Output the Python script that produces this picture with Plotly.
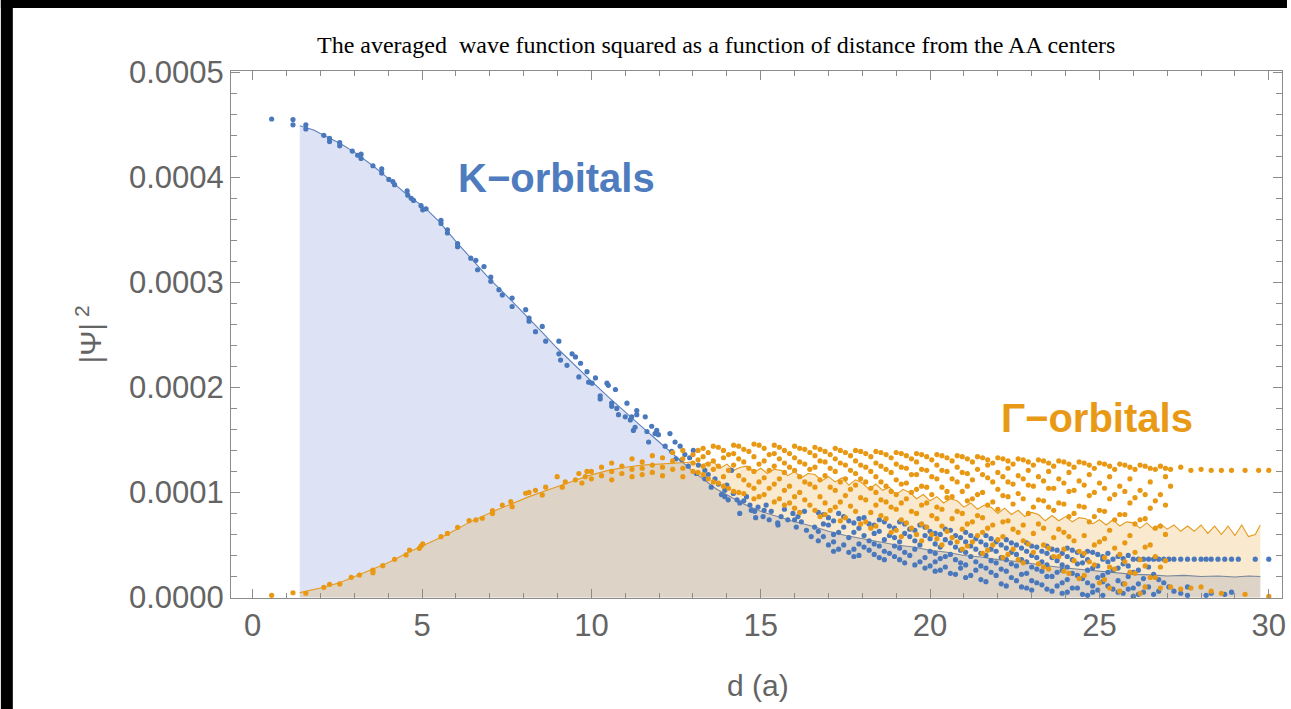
import plotly.graph_objects as go

# ---------------- data (|psi|^2 values in units of 1e-5) ----------------
Y_UNIT = 1e-5

# averaged K-orbital curve
k_curve_x = [1.39, 1.8, 2.1, 2.6, 3.0, 3.55, 4.0, 4.5, 5.12, 5.5, 6.0, 6.5, 7.0, 7.57, 8.0,
             8.5, 9.0, 9.5, 10.0, 10.5, 11.0, 11.4, 12.0, 12.5, 13.0, 13.7, 14.5, 15.0, 15.9,
             16.5, 17.0, 17.5, 18.0, 18.5, 19.0, 19.5, 20.0, 20.5, 21.0, 21.5, 22.0, 22.5,
             23.0, 23.5, 24.0, 24.5, 25.0, 25.5, 26.0, 26.5, 27.0, 27.5, 28.0, 28.5, 29.0,
             29.4, 29.75]
k_curve_y = [44.9, 44.5, 44.0, 43.2, 42.4, 41.1, 39.9, 38.5, 37.0, 35.8, 33.9, 32.1, 30.3,
             28.5, 27.1, 25.4, 23.7, 22.1, 20.6, 19.1, 17.7, 16.5, 14.8, 13.4, 12.0, 10.3,
             8.9, 8.2, 7.3, 6.8, 6.3, 5.9, 5.6, 5.3, 5.0, 4.8, 4.5, 4.3, 4.0, 3.85, 3.6,
             3.45, 3.2, 3.0, 2.8, 2.65, 2.45, 2.35, 2.2, 2.15, 2.05, 2.1, 2.0, 2.05, 1.95,
             2.05, 2.0]

# averaged Gamma-orbital curve
g_curve_x = [1.39, 2.0, 2.57, 3.0, 3.55, 4.0, 4.63, 5.0, 5.6, 6.0, 6.39, 7.18, 8.16, 9.13,
             9.92, 10.5, 11.0, 11.5, 12.0, 12.5,
             13.0, 13.2, 13.4, 13.6, 13.8, 14.0, 14.2, 14.4, 14.6, 14.8, 15.0, 15.2, 15.4,
             15.6, 15.8, 16.0, 16.2, 16.4, 16.6, 16.8, 17.0, 17.2, 17.4, 17.6, 17.8, 18.0,
             18.2, 18.4, 18.6, 18.8, 19.0, 19.2, 19.4, 19.6, 19.8, 20.0, 20.2, 20.4, 20.6,
             20.8, 21.0, 21.2, 21.4, 21.6, 21.8, 22.0, 22.2, 22.4, 22.6, 22.8, 23.0, 23.2,
             23.4, 23.6, 23.8, 24.0, 24.2, 24.4, 24.6, 24.8, 25.0, 25.2, 25.4, 25.6, 25.8,
             26.0, 26.2, 26.4, 26.6, 26.8, 27.0, 27.2, 27.4, 27.6, 27.8, 28.0, 28.2, 28.4,
             28.6, 28.8, 29.0, 29.2, 29.4, 29.6, 29.75]
g_curve_y = [0.46, 0.9, 1.4, 1.95, 2.68, 3.3, 4.36, 4.9, 5.79, 6.45, 7.15, 8.3, 9.6, 10.7,
             11.6, 12.1, 12.4, 12.6, 12.7, 12.8,
             12.9, 12.5, 12.8, 12.9, 12.3, 12.7, 12.1, 12.4, 12.5, 11.9, 12.3, 11.8, 12.2,
             12.1, 11.6, 12.0, 11.4, 11.8, 11.7, 11.1, 11.5, 11.0, 11.4, 10.7, 11.2, 10.9,
             10.3, 10.8, 10.2, 10.5, 9.8, 10.3, 10.0, 9.4, 9.8, 9.2, 9.6, 9.0, 9.4, 9.2,
             8.6, 9.0, 8.4, 8.8, 8.6, 8.0, 8.5, 7.9, 8.3, 7.7, 8.1, 7.9, 7.3, 7.8, 7.3,
             7.7, 7.2, 7.6, 7.5, 7.0, 7.4, 6.9, 7.4, 6.8, 7.2, 7.1, 6.6, 7.1, 6.5, 7.0,
             6.5, 6.9, 6.3, 6.8, 6.3, 6.9, 6.1, 6.8, 6.0, 6.8, 5.9, 6.9, 5.8, 6.0, 6.9]

# K-orbital individual points (x, y)
k_points = [
    (0.56, 45.55), (1.19, 45.0), (1.19, 45.5), (1.57, 44.6), (1.57, 45.0), (2.1, 44.0),
    (2.27, 43.7), (2.27, 43.4), (2.57, 43.3), (2.57, 43.0), (2.94, 42.5), (3.1, 42.1),
    (3.2, 41.8), (3.2, 42.2), (3.55, 41.1), (3.81, 40.4), (3.81, 40.8), (4.02, 39.8),
    (4.14, 39.6), (4.19, 39.3), (4.56, 38.7), (4.58, 38.3), (4.68, 38.0), (4.75, 37.8),
    (4.97, 37.3), (5.02, 36.9), (5.12, 37.0), (5.56, 35.6), (5.56, 35.9), (5.75, 34.7),
    (5.75, 35.0), (6.05, 33.7), (6.05, 33.4), (6.44, 32.3), (6.59, 32.1), (6.64, 31.2),
    (6.83, 31.5), (7.03, 30.5), (7.03, 30.1), (7.27, 29.3), (7.37, 28.8), (7.66, 28.5),
    (7.66, 27.7), (8.06, 27.4), (8.16, 26.3), (8.16, 26.6), (8.35, 25.3), (8.55, 25.8),
    (8.65, 24.4), (9.04, 24.4), (9.04, 23.2), (9.09, 22.6), (9.28, 22.1), (9.43, 23.2),
    (9.53, 22.9), (9.68, 22.3), (9.63, 21.0), (9.87, 21.5), (9.92, 20.5), (10.02, 20.4),
    (10.12, 20.9), (10.26, 18.9), (10.26, 19.2), (10.46, 20.4), (10.5, 20.2), (10.6, 18.5),
    (10.6, 18.2), (10.71, 19.8), (10.75, 18.0), (10.8, 17.4), (11.0, 17.2), (11.05, 18.5),
    (11.15, 16.9), (11.19, 17.2), (11.24, 15.9), (11.29, 16.2), (11.34, 17.8), (11.34, 17.4),
    (11.59, 17.2), (11.64, 15.8), (11.69, 14.8), (11.78, 16.3), (11.88, 15.6), (11.93, 15.9),
    (11.98, 15.5), (12.18, 14.4), (12.32, 15.6), (12.37, 13.9), (12.47, 14.8), (12.62, 14.4),
    (12.67, 13.1), (12.76, 13.6), (12.86, 12.5), (13.01, 14.0), (13.16, 12.6), (13.35, 12.1),
    (13.35, 11.3), (13.54, 10.5), (13.65, 11.3), (13.84, 9.8), (13.94, 10.2), (13.94, 9.6),
    (14.04, 9.3), (14.14, 12.1), (14.19, 9.9), (14.3, 9.3), (14.38, 9.0), (14.38, 8.0),
    (14.58, 9.6), (14.68, 8.8), (14.72, 8.3), (14.82, 8.2), (14.92, 8.6), (15.07, 7.7),
    (15.1, 8.3), (15.16, 8.8), (15.31, 8.2), (15.5, 7.1), (15.51, 6.9), (15.6, 7.7),
    (15.8, 7.4), (15.95, 8.0), (16.05, 6.7), (16.1, 7.7), (16.2, 7.2), (16.29, 8.2),
    (16.49, 5.8), (16.59, 6.7), (12.5, 13.2), (12.9, 13.3), (13.1, 11.8), (13.45, 11.7),
    (13.75, 10.8), (14.0, 10.7), (14.5, 9.2), (14.85, 7.6), (15.25, 7.4), (15.7, 8.4),
    (16.0, 7.4), (16.35, 6.4),
]

# K-orbital points in the spread region: (x, [y values])
k_band = [
    (16.7, [8.1, 6.3, 5.4]), (17.0, [7.6, 6.9, 5.0]), (17.3, [8.0, 6.2, 4.6]),
    (17.6, [7.3, 5.7, 4.3]), (17.9, [7.5, 6.6, 5.1, 4.0]), (18.2, [7.0, 5.4, 4.5]),
    (18.5, [7.4, 6.3, 4.9, 3.8]), (18.8, [6.8, 5.9, 4.2]), (19.1, [7.2, 5.3, 4.7, 3.6]),
    (19.4, [6.5, 5.8, 4.0]), (19.7, [6.9, 5.0, 3.4]), (20.0, [6.3, 5.6, 4.4, 3.0]),
    (20.3, [6.0, 4.8, 3.7, 2.6]), (20.6, [6.4, 5.2, 4.1, 2.3]), (20.9, [5.7, 4.5, 3.3, 2.8]),
    (21.2, [5.9, 4.9, 3.9, 2.1]), (21.5, [5.3, 4.2, 3.0, 1.7]), (21.8, [5.6, 4.6, 3.5, 2.4]),
    (22.1, [5.0, 3.8, 2.7, 1.3]), (22.4, [5.2, 4.3, 3.2, 1.9]), (22.7, [4.7, 3.6, 2.2, 1.0]),
    (23.0, [4.9, 4.0, 2.9, 1.6, 0.7]), (23.3, [4.4, 3.4, 2.5, 1.2]),
    (23.6, [4.6, 3.8, 2.0, 0.6]), (23.9, [4.2, 3.1, 2.6, 1.4, 0.4]),
    (24.2, [4.5, 3.6, 2.3, 0.9]), (24.5, [4.0, 3.3, 1.8, 0.3]), (24.8, [4.3, 2.8, 1.1, 0.5]),
    (25.1, [3.9, 3.65, 2.1, 1.5, 0.2]), (25.4, [3.65, 2.6, 0.8]), (25.7, [3.7, 3.2, 1.3, 0.4]),
    (26.0, [3.65, 2.4, 0.9, 0.1]), (26.3, [3.65, 1.8, 0.5]), (26.6, [3.65, 2.2, 0.3]),
    (26.9, [3.65, 1.4]), (27.2, [3.65, 0.6]), (27.6, [3.65, 1.0, 0.2]), (28.0, [3.65]),
    (28.3, [3.65, 0.4]), (28.7, [3.65, 0.3]), (29.1, [3.65]), (29.6, [3.65]), (30.0, [3.65]),
    (16.85, [7.9, 7.0, 5.8]), (17.15, [7.3, 6.0, 5.3, 4.4]), (17.45, [7.7, 6.7, 5.0]),
    (17.75, [7.1, 6.2, 4.6, 3.9]), (18.05, [7.6, 5.9, 4.8]), (18.35, [6.9, 6.1, 5.1, 4.1]),
    (18.65, [7.2, 5.5, 4.4, 3.6]), (18.95, [6.6, 5.7, 4.9, 3.9]), (19.25, [7.0, 6.1, 4.3, 3.3]),
    (19.55, [6.4, 5.4, 4.6, 3.1]), (19.85, [6.7, 5.9, 3.8, 2.8]),
    (20.15, [6.1, 5.1, 4.2, 3.4, 2.5]), (20.45, [6.5, 5.5, 3.9, 2.9]),
    (20.75, [5.9, 4.8, 3.6, 2.2]), (21.05, [6.2, 5.3, 4.3, 3.1, 1.9]),
    (21.35, [5.6, 4.6, 3.4, 2.6]), (21.65, [5.9, 5.0, 4.0, 2.8, 1.5]),
    (21.95, [5.3, 4.4, 3.3, 2.1]), (22.25, [5.5, 4.7, 3.6, 2.5, 1.1]),
    (22.55, [5.0, 4.1, 3.0, 1.6]), (22.85, [5.2, 4.4, 3.4, 2.3, 0.9]),
    (23.15, [4.8, 3.8, 2.7, 1.4]), (23.45, [4.9, 4.2, 3.1, 2.0, 0.8]),
    (23.75, [4.5, 3.5, 2.4, 1.1]), (24.05, [4.7, 3.9, 2.9, 1.7, 0.5]),
    (24.35, [4.3, 3.2, 2.1, 0.9]), (24.65, [4.4, 3.6, 2.6, 1.4, 0.2]),
    (24.95, [4.1, 3.0, 1.9, 0.7]), (25.25, [4.2, 3.4, 2.4, 1.1]),
    (25.55, [3.9, 2.8, 1.6, 0.5]), (25.85, [4.0, 3.0, 2.0, 0.8]),
    (26.15, [3.65, 2.6, 1.3, 0.3]), (26.45, [3.65, 2.9, 1.0]), (26.75, [3.65, 1.7, 0.6]),
    (27.05, [3.65, 1.0]), (27.4, [3.65, 0.4]), (27.8, [3.65]), (28.15, [3.65, 0.2]),
    (28.5, [3.65]), (28.9, [3.65, 0.5]),
]

# Gamma-orbital individual points (x, y)
g_points = [
    (0.56, 0.2), (1.19, 0.45), (1.57, 0.4), (2.1, 0.97), (2.27, 1.25), (2.57, 1.29),
    (2.91, 1.92), (3.15, 2.14), (3.55, 2.6), (3.55, 2.36), (3.84, 3.03), (4.19, 3.63),
    (4.53, 4.05), (4.63, 4.52), (4.92, 4.68), (4.97, 4.9), (5.02, 5.1), (5.56, 5.79),
    (5.75, 6.1), (6.05, 6.68), (6.39, 7.31), (6.59, 7.38), (6.78, 7.54), (7.08, 8.0),
    (7.08, 8.26), (7.37, 8.8), (7.62, 9.12), (7.66, 8.64), (8.06, 9.92), (8.16, 10.0),
    (8.35, 10.2), (8.55, 9.76), (8.65, 10.5), (8.99, 11.5), (9.14, 10.5), (9.23, 11.0),
    (9.53, 11.2), (9.63, 11.8), (9.72, 10.9), (9.87, 12.0), (9.82, 11.5),
]

# Gamma-orbital points in the spread region: (x, [y values])
g_band = [
    (10.0, [12.0, 11.3]), (10.3, [12.4, 11.6]), (10.6, [12.8, 12.0, 11.2]),
    (10.9, [12.5, 11.8]), (11.2, [13.2, 12.2, 11.5]), (11.5, [12.9, 12.3, 11.7]),
    (11.8, [13.5, 12.6, 11.9]), (12.1, [13.3, 12.4, 11.6]), (12.4, [13.8, 13.0, 12.2]),
    (12.7, [14.0, 13.2, 12.3, 11.5]), (13.0, [13.6, 12.8, 12.0]),
    (13.3, [14.2, 13.4, 12.5, 11.7]), (13.6, [14.4, 13.0, 12.2, 11.0]),
    (13.9, [14.0, 13.3, 11.5, 10.6]), (14.2, [14.5, 13.7, 12.6, 10.1]),
    (14.5, [14.1, 12.9, 11.2, 9.9]), (14.8, [14.6, 13.4, 12.0, 10.4, 9.4]),
    (15.1, [14.2, 13.0, 11.4, 9.8]), (15.4, [14.5, 13.7, 12.5, 10.8, 9.1]),
    (15.7, [14.0, 12.8, 11.9, 10.2, 8.8]), (16.0, [14.4, 13.3, 12.1, 9.6, 8.5]),
    (16.3, [14.1, 12.7, 11.0, 9.3]), (16.6, [14.3, 13.5, 12.4, 10.5, 8.3]),
    (16.9, [13.9, 12.9, 11.6, 9.0, 7.9]), (17.2, [14.2, 13.2, 12.0, 10.2, 8.6]),
    (17.5, [13.8, 12.6, 11.3, 9.7, 7.6]), (17.8, [14.0, 13.0, 11.8, 10.7, 8.2]),
    (18.1, [13.7, 12.4, 11.0, 9.3, 7.2]), (18.4, [13.9, 12.8, 11.5, 10.0, 8.8, 6.8]),
    (18.7, [13.6, 12.2, 10.6, 9.1, 7.5]), (19.0, [13.8, 12.7, 11.2, 9.8, 8.4, 6.4]),
    (19.3, [13.5, 12.3, 10.9, 9.4, 7.1]), (19.6, [13.7, 12.9, 11.7, 10.3, 8.0, 6.0]),
    (19.9, [13.4, 12.1, 10.5, 9.0, 6.7]), (20.2, [13.6, 12.6, 11.3, 8.6, 7.5, 5.6]),
    (20.5, [13.3, 12.0, 10.1, 9.5, 6.3]), (20.8, [13.5, 12.4, 11.0, 8.2, 5.3]),
    (21.1, [13.2, 11.8, 10.6, 9.2, 7.0, 4.9]), (21.4, [13.4, 12.2, 9.8, 7.8, 5.9]),
    (21.7, [13.1, 12.6, 11.4, 8.8, 6.6, 4.5]), (22.0, [13.3, 11.9, 10.3, 8.4, 5.5]),
    (22.3, [13.0, 12.3, 11.0, 9.6, 7.3, 4.1]), (22.6, [13.2, 11.6, 9.9, 6.2, 3.6]),
    (22.9, [12.9, 12.1, 10.7, 8.0, 5.1]), (23.2, [13.1, 11.5, 9.3, 7.0, 3.2]),
    (23.5, [12.8, 12.0, 10.4, 8.6, 4.7, 2.7]), (23.8, [13.0, 11.3, 9.0, 6.5, 3.9]),
    (24.1, [12.7, 11.9, 10.1, 7.7, 5.8, 2.3]), (24.4, [12.9, 11.1, 8.7, 4.4, 1.8]),
    (24.7, [12.6, 11.7, 9.7, 7.2, 3.4]), (25.0, [12.8, 10.9, 8.3, 5.3, 1.4]),
    (25.3, [12.5, 11.5, 9.4, 6.4, 2.9, 0.9]), (25.6, [12.7, 10.6, 7.9, 4.1, 0.6]),
    (25.9, [12.4, 11.3, 9.0, 5.9, 2.4]), (26.2, [12.6, 10.2, 7.4, 3.6, 0.4]),
    (26.5, [12.3, 11.0, 8.5, 5.0, 1.9]), (26.8, [12.5, 9.8, 6.8, 2.9, 0.9]),
    (27.1, [12.2, 10.6, 1.0]), (27.4, [12.4, 0.8]), (27.7, [12.1, 0.9]),
    (28.0, [12.2, 1.0]), (28.3, [12.1, 0.6]), (28.6, [12.1, 0.4]), (28.9, [12.1]),
    (29.3, [12.1, 0.3]), (29.7, [12.1]), (30.0, [12.1, 0.1]),
    (13.15, [14.0, 13.1, 11.9]), (13.45, [13.8, 12.7, 11.3]), (13.75, [14.3, 12.5, 10.9]),
    (14.05, [13.6, 12.1, 10.4]), (14.35, [14.4, 13.2, 11.6, 10.0]),
    (14.65, [13.9, 12.3, 10.7]), (14.95, [14.5, 12.7, 11.0, 9.6]),
    (15.25, [13.6, 12.1, 10.4]), (15.55, [14.3, 13.2, 11.3, 9.4]),
    (15.85, [13.7, 12.4, 10.6, 9.0]), (16.15, [14.2, 12.9, 11.5, 10.0, 8.1]),
    (16.45, [13.8, 12.2, 10.8, 8.8]), (16.75, [14.1, 13.0, 11.2, 9.6, 7.7]),
    (17.05, [13.6, 12.3, 10.5, 8.3]), (17.35, [14.0, 12.8, 11.0, 9.1, 7.3]),
    (17.65, [13.5, 12.1, 10.3, 8.7]), (17.95, [13.9, 12.6, 11.3, 9.5, 7.0]),
    (18.25, [13.4, 12.0, 10.4, 8.1, 6.6]), (18.55, [13.8, 12.5, 11.0, 9.3, 7.8]),
    (18.85, [13.3, 11.9, 10.1, 8.6, 6.2]), (19.15, [13.7, 12.4, 10.8, 9.0, 7.4, 5.8]),
    (19.45, [13.2, 11.7, 10.0, 8.2, 6.6]), (19.75, [13.6, 12.2, 10.6, 8.8, 7.0, 5.4]),
    (20.05, [13.1, 11.5, 9.8, 7.8, 6.0]), (20.35, [13.5, 12.1, 10.5, 8.4, 6.8, 5.0]),
    (20.65, [13.0, 11.3, 9.6, 7.5, 5.7]), (20.95, [13.4, 11.9, 10.1, 8.0, 6.5, 4.6]),
    (21.25, [12.9, 11.2, 9.4, 7.2, 5.3]), (21.55, [13.3, 11.7, 10.0, 7.6, 6.2, 4.2]),
    (21.85, [12.8, 11.0, 9.1, 6.9, 5.0]), (22.15, [13.2, 11.5, 9.7, 7.2, 5.8, 3.8]),
    (22.45, [12.7, 10.8, 8.9, 6.5, 4.6]), (22.75, [13.1, 11.3, 9.4, 6.9, 5.4, 3.3]),
    (23.05, [12.6, 10.6, 8.6, 6.1, 4.3]), (23.35, [13.0, 11.1, 9.2, 6.6, 5.0, 2.9]),
    (23.65, [12.5, 10.4, 8.3, 5.7, 3.9]), (23.95, [12.9, 10.9, 8.9, 6.2, 4.6, 2.5]),
    (24.25, [12.4, 10.2, 8.0, 5.4, 3.5]), (24.55, [12.8, 10.7, 8.6, 5.9, 4.2, 2.1]),
    (24.85, [12.3, 10.0, 7.7, 5.0, 3.1]), (25.15, [12.7, 10.4, 8.2, 5.6, 3.8, 1.7]),
    (25.45, [12.2, 9.8, 7.4, 4.7, 2.7]), (25.75, [12.6, 10.1, 7.9, 5.2, 3.4, 1.3]),
    (26.05, [12.2, 9.5, 7.0, 4.3, 2.3]), (26.35, [12.5, 9.8, 7.5, 4.8, 3.0, 1.0]),
    (26.65, [12.2, 9.2, 6.6, 3.9, 1.9]), (26.95, [12.3, 11.5, 8.8, 6.0, 3.5]),
]

# ---------------- assemble ----------------
def split_pairs(pairs):
    return [p[0] for p in pairs], [p[1] * Y_UNIT for p in pairs]

def expand_groups(groups):
    xs, ys = [], []
    for x, vals in groups:
        for v in vals:
            xs.append(x)
            ys.append(v * Y_UNIT)
    return xs, ys

kx1, ky1 = split_pairs(k_points)
kx2, ky2 = expand_groups(k_band)
gx1, gy1 = split_pairs(g_points)
gx2, gy2 = expand_groups(g_band)

BLUE = "rgb(74,120,188)"
ORANGE = "rgb(232,152,18)"

fig = go.Figure()
fig.add_trace(go.Scatter(x=k_curve_x, y=[v * Y_UNIT for v in k_curve_y], mode="lines",
                         line=dict(color="rgb(94,129,190)", width=1.1), fill="tozeroy",
                         fillcolor="rgba(94,125,205,0.21)", showlegend=False))
fig.add_trace(go.Scatter(x=g_curve_x, y=[v * Y_UNIT for v in g_curve_y], mode="lines",
                         line=dict(color="rgb(230,155,30)", width=1.1), fill="tozeroy",
                         fillcolor="rgba(225,156,36,0.22)", showlegend=False))
fig.add_trace(go.Scatter(x=kx1 + kx2, y=ky1 + ky2, mode="markers",
                         marker=dict(color=BLUE, size=5.2, symbol="circle", line=dict(width=0)),
                         showlegend=False))
fig.add_trace(go.Scatter(x=gx1 + gx2, y=gy1 + gy2, mode="markers",
                         marker=dict(color=ORANGE, size=5.2, symbol="circle", line=dict(width=0)),
                         showlegend=False))

FRAME = "rgb(140,140,140)"
TICKFONT = dict(family="Liberation Sans, Arial", size=31, color="rgb(100,100,100)")

fig.update_xaxes(range=[-0.64, 30.39], tickvals=[0, 5, 10, 15, 20, 25, 30],
                 ticks="inside", ticklen=9, tickcolor=FRAME, tickwidth=1,
                 showline=True, linecolor=FRAME, linewidth=1, mirror="allticks",
                 showgrid=False, zeroline=False, tickfont=TICKFONT,
                 minor=dict(dtick=1, tick0=0, ticks="inside", ticklen=5,
                            tickcolor=FRAME, showgrid=False))
fig.update_yaxes(range=[-0.0000005, 0.0005012], tickvals=[0, 0.0001, 0.0002, 0.0003, 0.0004, 0.0005],
                 tickformat=".4f", ticks="inside", ticklen=9, tickcolor=FRAME, tickwidth=1,
                 showline=True, linecolor=FRAME, linewidth=1, mirror="allticks",
                 showgrid=False, zeroline=False, tickfont=TICKFONT,
                 minor=dict(dtick=0.00002, tick0=0, ticks="inside", ticklen=6,
                            tickcolor=FRAME, showgrid=False))

W, H = 1291, 709
L, R, T, B = 231, 5, 71, 111
pw, ph = W - L - R, H - T - B

def px(xp):
    return (xp - L) / pw

def py(yp):
    return (H - B - yp) / ph

annotations = [
    dict(text="The averaged  wave function squared as a function of distance from the AA centers",
         x=px(718), y=py(45), xref="paper", yref="paper", showarrow=False,
         xanchor="center", yanchor="middle",
         font=dict(family="Liberation Serif, Times New Roman", size=24, color="black")),
    dict(text="<b>K\u2212orbitals</b>", x=px(558), y=py(178), xref="paper", yref="paper",
         showarrow=False, xanchor="center", yanchor="middle",
         font=dict(family="Liberation Sans, Arial", size=40, color="rgb(78,124,190)")),
    dict(text="<b>\u0393\u2212orbitals</b>", x=px(1100), y=py(418), xref="paper", yref="paper",
         showarrow=False, xanchor="center", yanchor="middle",
         font=dict(family="Liberation Sans, Arial", size=40, color="rgb(232,154,22)")),
    dict(text="d (a)", x=px(760), y=py(685), xref="paper", yref="paper", showarrow=False,
         xanchor="center", yanchor="middle",
         font=dict(family="Liberation Sans, Arial", size=30, color="rgb(100,100,100)")),
    dict(text="|\u03a8|<sup> 2</sup>", x=px(88), y=py(335), xref="paper", yref="paper",
         showarrow=False, xanchor="center", yanchor="middle", textangle=-90,
         font=dict(family="Liberation Sans, Arial", size=30, color="rgb(100,100,100)")),
]

shapes = [
    dict(type="rect", xref="paper", yref="paper", x0=px(0), x1=px(12), y0=py(H), y1=py(0),
         fillcolor="black", line=dict(width=0), layer="above"),
    dict(type="rect", xref="paper", yref="paper", x0=px(0), x1=px(W), y0=py(8), y1=py(0),
         fillcolor="black", line=dict(width=0), layer="above"),
]

fig.update_layout(width=W, height=H, margin=dict(l=L, r=R, t=T, b=B),
                  paper_bgcolor="white", plot_bgcolor="white",
                  annotations=annotations, shapes=shapes, showlegend=False)

fig.write_html("out.html")
